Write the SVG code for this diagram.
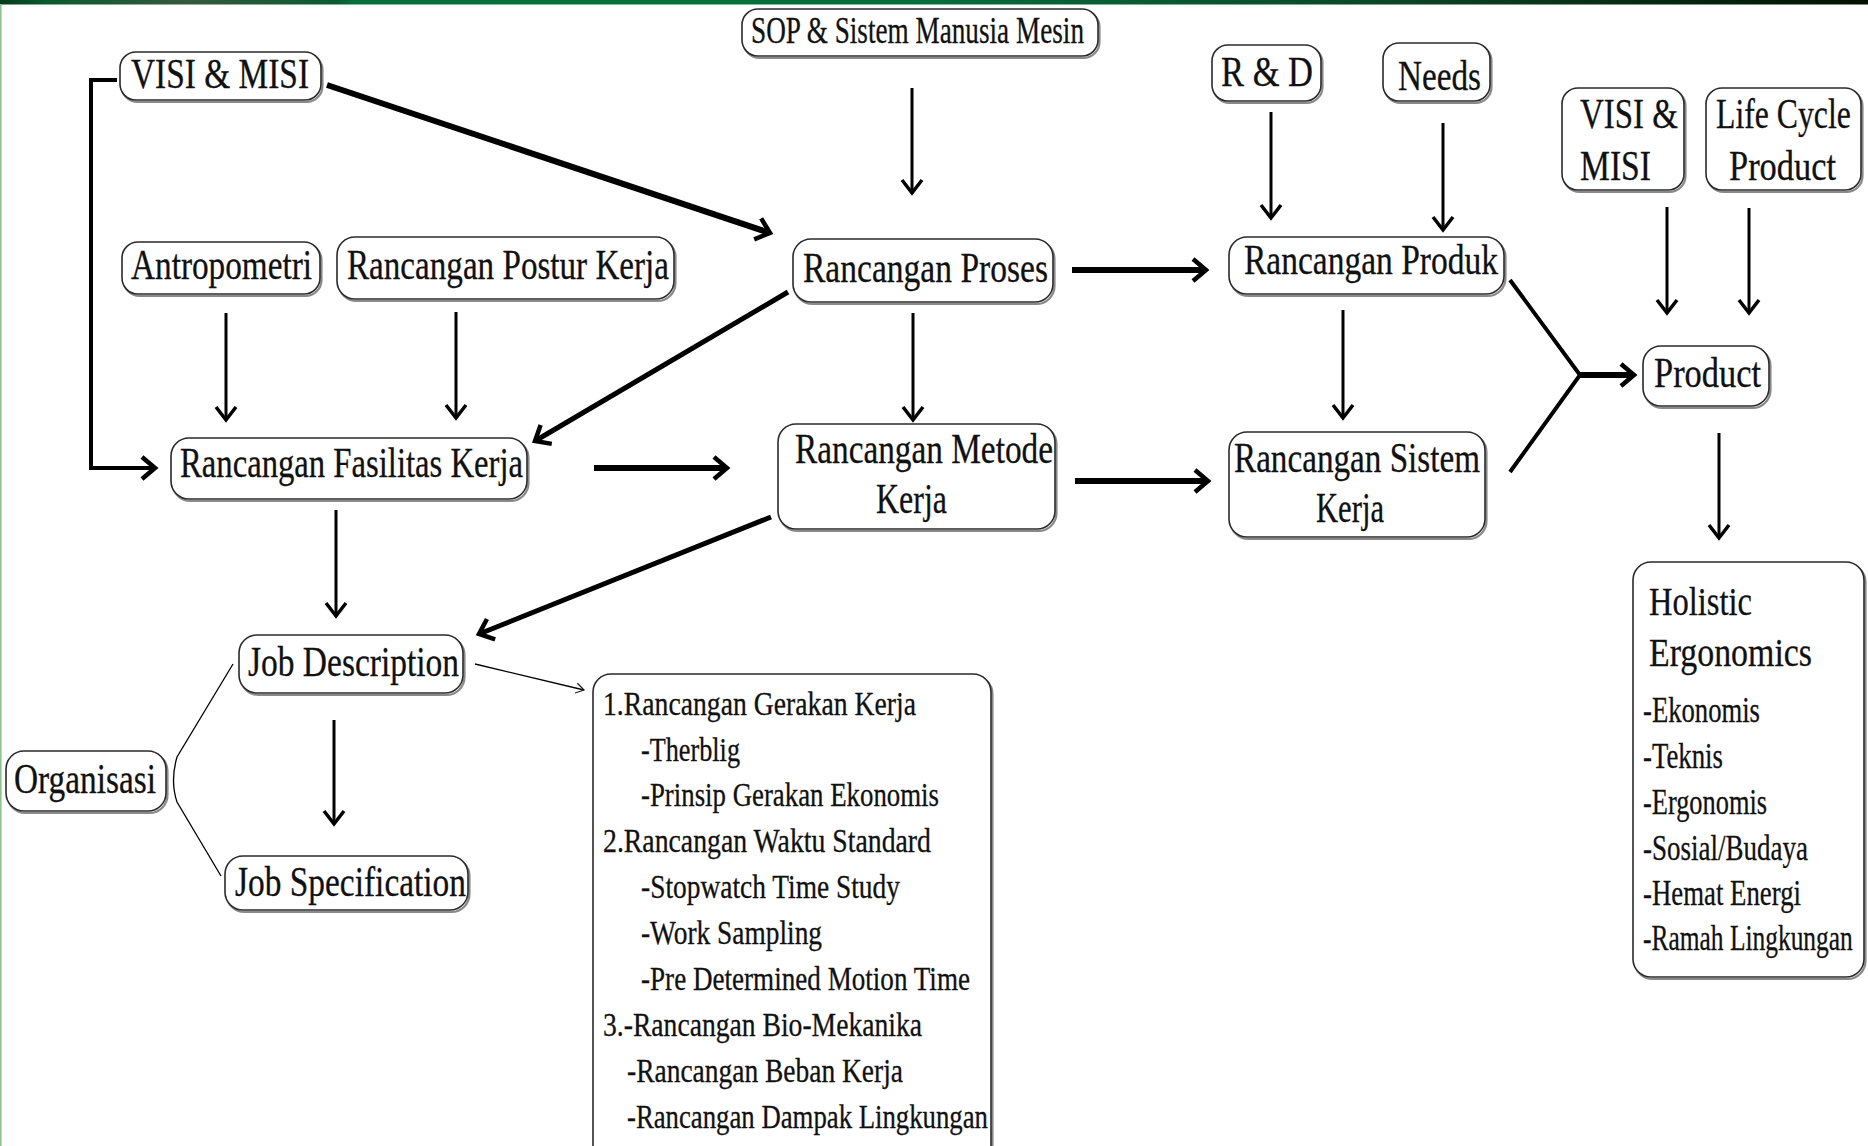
<svg xmlns="http://www.w3.org/2000/svg" width="1868" height="1146" viewBox="0 0 1868 1146">
<defs>
<linearGradient id="band" x1="0" y1="0" x2="1" y2="0">
<stop offset="0" stop-color="#023a1c"/>
<stop offset="0.025" stop-color="#0b5a2e"/>
<stop offset="0.1" stop-color="#35583e"/>
<stop offset="0.18" stop-color="#0a5a30"/>
<stop offset="0.19" stop-color="#04713d"/>
<stop offset="0.48" stop-color="#05703c"/>
<stop offset="0.75" stop-color="#0b4426"/>
<stop offset="1" stop-color="#001200"/>
</linearGradient>
<marker id="ah" markerUnits="userSpaceOnUse" markerWidth="30" markerHeight="30" refX="0" refY="0" orient="auto" overflow="visible">
<path d="M-13,-11 L0,0 L-13,11" fill="none" stroke="#000" stroke-width="4.5" stroke-linejoin="miter"/>
</marker>
<marker id="as" markerUnits="userSpaceOnUse" markerWidth="30" markerHeight="30" refX="0" refY="0" orient="auto" overflow="visible">
<path d="M-13,-10 L0,0 L-13,10" fill="none" stroke="#000" stroke-width="3.5"/>
</marker>
<marker id="at" markerUnits="userSpaceOnUse" markerWidth="20" markerHeight="20" refX="0" refY="0" orient="auto" overflow="visible">
<path d="M-8,-5 L0,0 L-8,5" fill="none" stroke="#222" stroke-width="1.3"/>
</marker>
</defs>
<style>
.bx{fill:#fff;stroke:#2a2a2a;stroke-width:1.6}
.sh{fill:none;stroke:#8a8a8a;stroke-width:2.2}
.t{font-family:"Liberation Serif","Times New Roman",serif;font-size:42px;fill:#111;stroke:#111;stroke-width:0.3}
.s{font-size:34px}
.h{font-size:41px}
.i{font-size:36px}
.c{fill:none;stroke:#000;stroke-linecap:butt}
.w6{stroke-width:6}
.w5{stroke-width:5}
.w4{stroke-width:4}
.w3{stroke-width:3}
</style>
<rect x="0" y="0" width="1868" height="1146" fill="#fff"/>
<rect x="0" y="0" width="1868" height="4.5" fill="url(#band)"/>
<rect x="0" y="4" width="1.6" height="1142" fill="#8cc58c"/>

<g id="connectors">
<polyline class="c w4" points="117,80 91,80 91,468 155,468" marker-end="url(#ah)"/>
<line class="c w6" x1="327" y1="85" x2="770" y2="233" marker-end="url(#ah)"/>
<line class="c w3" x1="912" y1="88" x2="912" y2="193" marker-end="url(#as)"/>
<line class="c w3" x1="1271" y1="112" x2="1271" y2="218" marker-end="url(#as)"/>
<line class="c w3" x1="1443" y1="123" x2="1443" y2="230" marker-end="url(#as)"/>
<line class="c w3" x1="1667" y1="207" x2="1667" y2="313" marker-end="url(#as)"/>
<line class="c w3" x1="1749" y1="208" x2="1749" y2="313" marker-end="url(#as)"/>
<line class="c w3" x1="226" y1="313" x2="226" y2="420" marker-end="url(#as)"/>
<line class="c w3" x1="456" y1="312" x2="456" y2="418" marker-end="url(#as)"/>
<line class="c w5" x1="788" y1="292" x2="535" y2="441" marker-end="url(#ah)"/>
<line class="c w3" x1="913" y1="313" x2="913" y2="420" marker-end="url(#as)"/>
<line class="c w6" x1="1072" y1="270" x2="1206" y2="270" marker-end="url(#ah)"/>
<line class="c w3" x1="1343" y1="310" x2="1343" y2="418" marker-end="url(#as)"/>
<line class="c w6" x1="594" y1="468" x2="727" y2="468" marker-end="url(#ah)"/>
<line class="c w6" x1="1075" y1="481" x2="1208" y2="481" marker-end="url(#ah)"/>
<polyline class="c w4" points="1510,280 1580,375 1510,472" stroke-linejoin="miter"/>
<line class="c w6" x1="1578" y1="375" x2="1634" y2="375" marker-end="url(#ah)"/>
<line class="c w3" x1="1719" y1="433" x2="1719" y2="538" marker-end="url(#as)"/>
<line class="c w3" x1="336" y1="510" x2="336" y2="616" marker-end="url(#as)"/>
<line class="c w5" x1="771" y1="517" x2="479" y2="634" marker-end="url(#ah)"/>
<line class="c w3" x1="334" y1="720" x2="334" y2="824" marker-end="url(#as)"/>
<line class="c" stroke-width="1.3" x1="475" y1="664" x2="584" y2="690" marker-end="url(#at)"/>
<path class="c" stroke="#555" stroke-width="1.3" d="M233,664 L177,757 Q170,781 177,802 L221,876"/>
</g>

<g id="n-visi-misi-1"><rect class="sh" x="121.5" y="54" width="201" height="48" rx="16"/><rect class="bx" x="120" y="52" width="201" height="48" rx="16"/><text class="t" x="131" y="88" textLength="178" lengthAdjust="spacingAndGlyphs">VISI &amp; MISI</text></g>
<g id="n-sop"><rect class="sh" x="743.5" y="11" width="356" height="47" rx="16"/><rect class="bx" x="742" y="9" width="356" height="47" rx="16"/><text class="t" style="font-size:38px" x="751" y="43" textLength="333" lengthAdjust="spacingAndGlyphs">SOP &amp; Sistem Manusia Mesin</text></g>
<g id="n-rd"><rect class="sh" x="1213.5" y="47" width="109" height="56" rx="16"/><rect class="bx" x="1212" y="45" width="109" height="56" rx="16"/><text class="t" x="1221" y="86" textLength="92" lengthAdjust="spacingAndGlyphs">R &amp; D</text></g>
<g id="n-needs"><rect class="sh" x="1384.5" y="45" width="107" height="58" rx="16"/><rect class="bx" x="1383" y="43" width="107" height="58" rx="16"/><text class="t" x="1398" y="90" textLength="83" lengthAdjust="spacingAndGlyphs">Needs</text></g>
<g id="n-visi-misi-2"><rect class="sh" x="1563.5" y="90" width="122" height="102" rx="16"/><rect class="bx" x="1562" y="88" width="122" height="102" rx="16"/><text class="t" x="1580" y="128" textLength="98" lengthAdjust="spacingAndGlyphs">VISI &amp;</text><text class="t" x="1580" y="180" textLength="71" lengthAdjust="spacingAndGlyphs">MISI</text></g>
<g id="n-life-cycle"><rect class="sh" x="1707.5" y="90" width="155" height="102" rx="16"/><rect class="bx" x="1706" y="88" width="155" height="102" rx="16"/><text class="t" transform="translate(1716,128) scale(0.756,1)" x="0" y="0">Life Cycle</text><text class="t" x="1729" y="180" textLength="107" lengthAdjust="spacingAndGlyphs">Product</text></g>
<g id="n-antropometri"><rect class="sh" x="123.5" y="244" width="198" height="52" rx="16"/><rect class="bx" x="122" y="242" width="198" height="52" rx="16"/><text class="t" x="131" y="279" textLength="181" lengthAdjust="spacingAndGlyphs">Antropometri</text></g>
<g id="n-postur"><rect class="sh" x="338.5" y="239" width="337" height="62" rx="18"/><rect class="bx" x="337" y="237" width="337" height="62" rx="18"/><text class="t" x="347" y="279" textLength="322" lengthAdjust="spacingAndGlyphs">Rancangan Postur Kerja</text></g>
<g id="n-proses"><rect class="sh" x="794.5" y="241" width="260" height="63" rx="18"/><rect class="bx" x="793" y="239" width="260" height="63" rx="18"/><text class="t" x="803" y="282" textLength="245" lengthAdjust="spacingAndGlyphs">Rancangan Proses</text></g>
<g id="n-produk"><rect class="sh" x="1230.5" y="239" width="275" height="57" rx="18"/><rect class="bx" x="1229" y="237" width="275" height="57" rx="18"/><text class="t" x="1244" y="274" textLength="254" lengthAdjust="spacingAndGlyphs">Rancangan Produk</text></g>
<g id="n-fasilitas"><rect class="sh" x="172.5" y="440" width="356" height="61" rx="18"/><rect class="bx" x="171" y="438" width="356" height="61" rx="18"/><text class="t" x="180" y="477" textLength="343" lengthAdjust="spacingAndGlyphs">Rancangan Fasilitas Kerja</text></g>
<g id="n-metode"><rect class="sh" x="779.5" y="426" width="277" height="105" rx="18"/><rect class="bx" x="778" y="424" width="277" height="105" rx="18"/><text class="t" x="795" y="463" textLength="258" lengthAdjust="spacingAndGlyphs">Rancangan Metode</text><text class="t" x="876" y="513" textLength="71" lengthAdjust="spacingAndGlyphs">Kerja</text></g>
<g id="n-sistem"><rect class="sh" x="1230.5" y="434" width="256" height="105" rx="18"/><rect class="bx" x="1229" y="432" width="256" height="105" rx="18"/><text class="t" x="1234" y="472" textLength="246" lengthAdjust="spacingAndGlyphs">Rancangan Sistem</text><text class="t" x="1316" y="522" textLength="68" lengthAdjust="spacingAndGlyphs">Kerja</text></g>
<g id="n-product"><rect class="sh" x="1644.5" y="348" width="126" height="60" rx="18"/><rect class="bx" x="1643" y="346" width="126" height="60" rx="18"/><text class="t" x="1654" y="387" textLength="107" lengthAdjust="spacingAndGlyphs">Product</text></g>
<g id="n-holistic"><rect class="sh" x="1634.5" y="564" width="231" height="415" rx="18"/><rect class="bx" x="1633" y="562" width="231" height="415" rx="18"/>
<text class="t h" x="1649" y="615" textLength="103" lengthAdjust="spacingAndGlyphs">Holistic</text>
<text class="t h" x="1649" y="666" textLength="163" lengthAdjust="spacingAndGlyphs">Ergonomics</text>
<text class="t i" x="1643" y="722" textLength="117" lengthAdjust="spacingAndGlyphs">-Ekonomis</text>
<text class="t i" x="1643" y="768" textLength="80" lengthAdjust="spacingAndGlyphs">-Teknis</text>
<text class="t i" x="1643" y="814" textLength="124" lengthAdjust="spacingAndGlyphs">-Ergonomis</text>
<text class="t i" x="1643" y="860" textLength="165" lengthAdjust="spacingAndGlyphs">-Sosial/Budaya</text>
<text class="t i" x="1643" y="905" textLength="158" lengthAdjust="spacingAndGlyphs">-Hemat Energi</text>
<text class="t i" transform="translate(1643,950) scale(0.707,1)" x="0" y="0">-Ramah Lingkungan</text>
</g>
<g id="n-job-description"><rect class="sh" x="240.5" y="637" width="224" height="58" rx="18"/><rect class="bx" x="239" y="635" width="224" height="58" rx="18"/><text class="t" x="248" y="676" textLength="211" lengthAdjust="spacingAndGlyphs">Job Description</text></g>
<g id="n-job-specification"><rect class="sh" x="226.5" y="858" width="243" height="54" rx="18"/><rect class="bx" x="225" y="856" width="243" height="54" rx="18"/><text class="t" x="235" y="896" textLength="231" lengthAdjust="spacingAndGlyphs">Job Specification</text></g>
<g id="n-organisasi"><rect class="sh" x="7.5" y="753" width="160" height="60" rx="18"/><rect class="bx" x="6" y="751" width="160" height="60" rx="18"/><text class="t" x="14" y="793" textLength="142" lengthAdjust="spacingAndGlyphs">Organisasi</text></g>
<g id="n-list"><rect class="sh" x="594.5" y="676" width="398" height="500" rx="18"/><rect class="bx" x="593" y="674" width="398" height="500" rx="18"/>
<text class="t s" x="603" y="715" textLength="313" lengthAdjust="spacingAndGlyphs">1.Rancangan Gerakan Kerja</text>
<text class="t s" x="641" y="761" textLength="99" lengthAdjust="spacingAndGlyphs">-Therblig</text>
<text class="t s" x="641" y="806" textLength="298" lengthAdjust="spacingAndGlyphs">-Prinsip Gerakan Ekonomis</text>
<text class="t s" x="603" y="852" textLength="328" lengthAdjust="spacingAndGlyphs">2.Rancangan Waktu Standard</text>
<text class="t s" x="641" y="898" textLength="259" lengthAdjust="spacingAndGlyphs">-Stopwatch Time Study</text>
<text class="t s" x="641" y="944" textLength="181" lengthAdjust="spacingAndGlyphs">-Work Sampling</text>
<text class="t s" x="641" y="990" textLength="329" lengthAdjust="spacingAndGlyphs">-Pre Determined Motion Time</text>
<text class="t s" x="603" y="1036" textLength="319" lengthAdjust="spacingAndGlyphs">3.-Rancangan Bio-Mekanika</text>
<text class="t s" x="627" y="1082" textLength="276" lengthAdjust="spacingAndGlyphs">-Rancangan Beban Kerja</text>
<text class="t s" x="627" y="1128" textLength="361" lengthAdjust="spacingAndGlyphs">-Rancangan Dampak Lingkungan</text>
</g>
</svg>
